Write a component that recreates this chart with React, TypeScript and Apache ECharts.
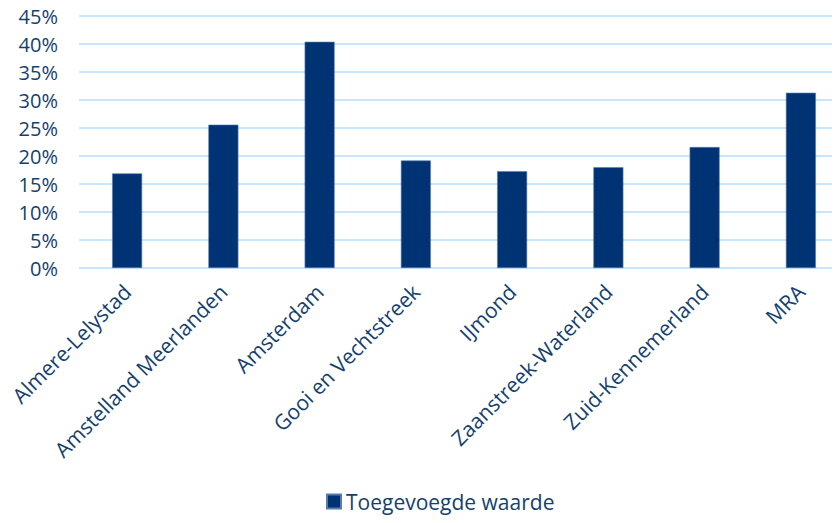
import React, { useEffect, useRef } from "react";
import * as echarts from "echarts";

const categories = [
  "Almere-Lelystad",
  "Amstelland Meerlanden",
  "Amsterdam",
  "Gooi en Vechtstreek",
  "IJmond",
  "Zaanstreek-Waterland",
  "Zuid-Kennemerland",
  "MRA",
];
const seriesName = "Toegevoegde waarde";
const values = [16.9, 25.6, 40.4, 19.2, 17.3, 18.0, 21.6, 31.3];
const yTicks = { min: 0, max: 45, interval: 5 };

const textColor = "#143f6e";
const barColor = "#003373";
const gridColor = "#c6e6ff";
const font = "'Open Sans', sans-serif";

export default function App() {
  const ref = useRef<HTMLDivElement>(null);
  useEffect(() => {
    if (!ref.current) return;
    const chart = echarts.init(ref.current, undefined, { renderer: "svg" });
    chart.setOption({
      animation: false,
      backgroundColor: "#ffffff",
      grid: { left: 79, top: 16, width: 770, height: 252, containLabel: false },
      legend: {
        show: true,
        top: 486,
        left: 321,
        padding: 5,
        itemWidth: 14,
        itemHeight: 14,
        itemGap: 5,
        icon: "rect",
        textStyle: { color: textColor, fontSize: 21, fontFamily: font },
        data: [seriesName],
      },
      xAxis: {
        type: "category",
        data: categories,
        axisLine: { show: false },
        axisTick: { show: false },
        axisLabel: {
          rotate: 45,
          interval: 0,
          margin: 20,
          color: textColor,
          fontSize: 21,
          fontFamily: font,
        },
      },
      yAxis: {
        type: "value",
        min: yTicks.min,
        max: yTicks.max,
        interval: yTicks.interval,
        axisLine: { show: false },
        axisTick: { show: false },
        splitLine: { lineStyle: { color: gridColor, width: 2 } },
        axisLabel: {
          formatter: "{value}%",
          margin: 21,
          color: textColor,
          fontSize: 20,
          fontFamily: font,
        },
      },
      series: [
        {
          name: seriesName,
          type: "bar",
          data: values,
          barWidth: 30,
          itemStyle: { color: barColor, borderColor: "#5a7cab", borderWidth: 0.6 },
        },
      ],
    });
    return () => chart.dispose();
  }, []);
  return (
    <div style={{ width: 840, height: 523, margin: -8, overflow: "hidden" }}>
      <div ref={ref} style={{ width: 860, height: 523 }} />
    </div>
  );
}
